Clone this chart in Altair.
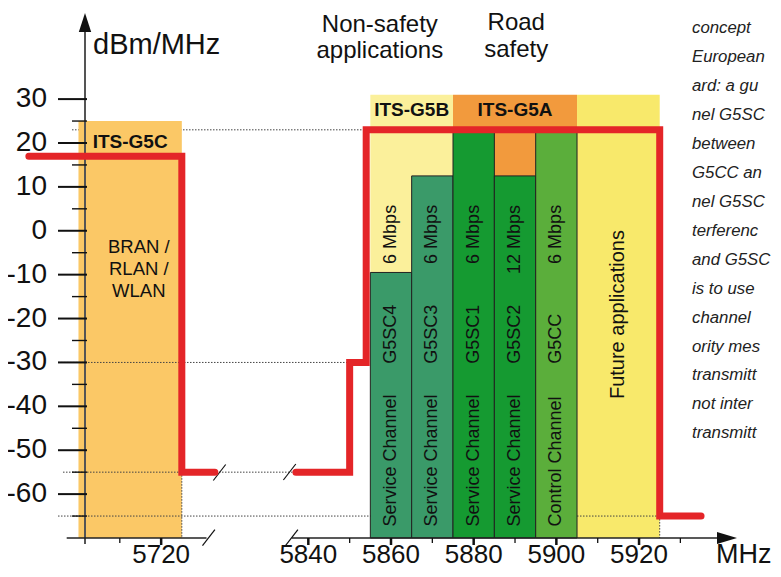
import altair as alt
import pandas as pd

# ---------------- data ----------------
band_label = ["ITS-G5C", "ITS-G5B", "ITS-G5A", "Future"]
band_lo = [5700, 5855, 5875, 5905]          # MHz
band_hi = [5725, 5875, 5905, 5925]          # MHz
band_top = [25, 31, 31, 31]                 # dBm/MHz
band_fill = ["#FBC866", "#FBF09B", "#F29A3D", "#F8E96B"]

ch_name = ["G5SC4", "G5SC3", "G5SC1", "G5SC2", "G5CC"]
ch_lo = [5855, 5865, 5875, 5885, 5895]
ch_hi = [5865, 5875, 5885, 5895, 5905]
ch_level = [-9.5, 12.5, 23, 12.5, 23]
ch_rate = ["6 Mbps", "6 Mbps", "6 Mbps", "12 Mbps", "6 Mbps"]
ch_kind = ["Service Channel", "Service Channel", "Service Channel",
           "Service Channel", "Control Channel"]
ch_fill = ["#3A9A69", "#3A9A69", "#159A31", "#159A31", "#5BAE3B"]

mask_left_f = [5688, 5725, 5725, 5733]
mask_left_p = [17, 17, -55, -55]
mask_right_f = [5837, 5850, 5850, 5854, 5854, 5925, 5925, 5935]
mask_right_p = [-55, -55, -30, -30, 23, 23, -65, -65]

y_major = [30, 20, 10, 0, -10, -20, -30, -40, -50, -60]
y_major_lbl = ["30", "20", "10", "0", "-10", "-20", "-30", "-40", "-50", "-60"]
y_minor = [25, 15, 5, -5, -15, -25, -35, -45, -55, -65]
x_major = [5720, 5840, 5860, 5880, 5900, 5920]
x_major_lbl = ["5720", "5840", "5860", "5880", "5900", "5920"]
x_minor = [5710, 5850, 5870, 5890, 5910, 5930]

side_text = ["concept", "European", "ard: a gu",
             "nel G5SC", "between", "G5CC an", "nel G5SC",
             "terferenc", "and G5SC", "is to use", "channel", "ority mes",
             "transmitt", "not inter", "transmitt"]

# ---------------- layout ----------------
OFF = 84.4          # broken axis: low band is shifted right by this many MHz
BREAK = 5780


def disp(f):
    return f + OFF if f < BREAK else f


K = 4.134           # px per MHz
W, H = 652, 523
X0 = 5785.98
X1 = X0 + W / K
Y0, Y1 = -70, 49.16


def dpx(px):        # plot-pixel -> display MHz
    return X0 + px / K


def ypx(v):         # dBm -> plot pixel
    return (Y1 - v) * H / (Y1 - Y0)


xs = alt.Scale(domain=[X0, X1], nice=False, zero=False)
ys = alt.Scale(domain=[Y0, Y1], nice=False, zero=False)
FONT = "Liberation Sans"
one = pd.DataFrame({"a": [0]})

layers = []

# dotted reference line under the bands
dot_under = pd.DataFrame({"x": [dpx(-13)], "x2": [5854], "y": [23], "y2": [23]})
layers.append(alt.Chart(dot_under).mark_rule(color="#444", strokeWidth=1, strokeDash=[1.5, 1.5]).encode(
    x=alt.X("x:Q", scale=xs, axis=None), x2="x2:Q",
    y=alt.Y("y:Q", scale=ys, axis=None), y2="y2:Q"))

# bands
bands = pd.DataFrame({"x": [disp(v) for v in band_lo], "x2": [disp(v) for v in band_hi],
                      "y": band_top, "y2": [Y0] * 4, "fill": band_fill})
layers.append(alt.Chart(bands).mark_rect().encode(
    x=alt.X("x:Q", scale=xs, axis=None), x2="x2:Q",
    y=alt.Y("y:Q", scale=ys, axis=None), y2="y2:Q",
    color=alt.Color("fill:N", scale=None)))

# dotted reference lines over the bands
dot_over = pd.DataFrame({
    "x": [dpx(-27), dpx(-22), dpx(-27), disp(5725), 5925],
    "x2": [5850, 5837, dpx(598), disp(5725), 5925],
    "y": [-30, -55, -65, -55, -65],
    "y2": [-30, -55, -65, Y0, Y0]})
layers.append(alt.Chart(dot_over).mark_rule(color="#444", strokeWidth=1, strokeDash=[1.5, 1.5]).encode(
    x=alt.X("x:Q", scale=xs, axis=None), x2="x2:Q",
    y=alt.Y("y:Q", scale=ys, axis=None), y2="y2:Q"))

# channel bars
chans = pd.DataFrame({"x": ch_lo, "x2": ch_hi, "y": ch_level, "y2": [Y0] * 5, "fill": ch_fill,
                      "c": [(a + b) / 2 for a, b in zip(ch_lo, ch_hi)],
                      "name": ch_name, "rate": ch_rate, "kind": ch_kind})
layers.append(alt.Chart(chans).mark_rect(stroke="#222", strokeWidth=1).encode(
    x=alt.X("x:Q", scale=xs, axis=None), x2="x2:Q",
    y=alt.Y("y:Q", scale=ys, axis=None), y2="y2:Q",
    color=alt.Color("fill:N", scale=None)))


# ---------- axes (furniture) ----------
def vrule(x, x2, y, y2, **kw):
    return alt.Chart(one).mark_rule(**kw).encode(
        x=alt.value(x), x2=alt.value(x2), y=alt.value(y), y2=alt.value(y2))


# y axis line + arrow
layers.append(vrule(0, 0, 17, 529, color="#555", strokeWidth=2))
layers.append(alt.Chart(one).mark_point(shape="M0,-1L0.65,1L-0.65,1Z", filled=True, size=361,
                                         color="#111", opacity=1).encode(x=alt.value(0), y=alt.value(7.5)))
# x axis line segments + arrow
layers.append(vrule(-18.3, 121.5, 523, 523, color="#222", strokeWidth=1.6))
layers.append(vrule(206.7, 633, 523, 523, color="#222", strokeWidth=1.6))
layers.append(alt.Chart(one).mark_point(shape="M1,0L-1,-0.6L-1,0.6Z", filled=True, size=400,
                                         color="#111", opacity=1).encode(x=alt.value(642), y=alt.value(523)))
# axis break marks
for cx, cy in [(123.7, 522.7), (206.7, 522.7), (134.5, 457.5), (204.6, 457.0)]:
    layers.append(vrule(cx - 6.2, cx + 6.2, cy + 8, cy - 8, color="#111", strokeWidth=1.2))

# y ticks
ymaj = pd.DataFrame({"v": y_major, "t": y_major_lbl})
ymin = pd.DataFrame({"v": y_minor})
layers.append(alt.Chart(ymaj).mark_rule(color="#111", strokeWidth=2).encode(
    y=alt.Y("v:Q", scale=ys, axis=None), x=alt.value(-27), x2=alt.value(2)))
layers.append(alt.Chart(ymin).mark_rule(color="#111", strokeWidth=1.4).encode(
    y=alt.Y("v:Q", scale=ys, axis=None), x=alt.value(-13), x2=alt.value(2)))
layers.append(alt.Chart(ymaj).mark_text(font=FONT, fontSize=28, align="right", baseline="alphabetic",
                                        dy=8, color="#111").encode(
    y=alt.Y("v:Q", scale=ys, axis=None), x=alt.value(-38), text="t:N"))

# x ticks
xmaj = pd.DataFrame({"v": [disp(v) for v in x_major], "t": x_major_lbl})
xmin = pd.DataFrame({"v": [disp(v) for v in x_minor]})
layers.append(alt.Chart(xmaj).mark_rule(color="#111", strokeWidth=2.5).encode(
    x=alt.X("v:Q", scale=xs, axis=None), y=alt.value(523), y2=alt.value(530)))
layers.append(alt.Chart(xmin).mark_rule(color="#111", strokeWidth=1.3).encode(
    x=alt.X("v:Q", scale=xs, axis=None), y=alt.value(523), y2=alt.value(528)))
layers.append(alt.Chart(xmaj).mark_text(font=FONT, fontSize=26, align="center", baseline="alphabetic",
                                        color="#111").encode(
    x=alt.X("v:Q", scale=xs, axis=None), y=alt.value(548.4), text="t:N"))

# axis titles
layers.append(alt.Chart(one).mark_text(text="dBm/MHz", font=FONT, fontSize=29, align="left",
                                       baseline="alphabetic", color="#111").encode(
    x=alt.value(8), y=alt.value(38.5)))
layers.append(alt.Chart(one).mark_text(text="MHz", font=FONT, fontSize=27, align="left",
                                       baseline="alphabetic", color="#111").encode(
    x=alt.value(631), y=alt.value(548)))

# ---------- spectrum mask (red) ----------
mask = pd.DataFrame({
    "x": [disp(v) for v in mask_left_f] + [disp(v) for v in mask_right_f],
    "y": mask_left_p + mask_right_p,
    "seg": ["a"] * len(mask_left_f) + ["b"] * len(mask_right_f),
    "i": list(range(len(mask_left_f))) + list(range(len(mask_right_f)))})
layers.append(alt.Chart(mask).mark_line(color="#E42528", strokeWidth=7, strokeCap="round",
                                        strokeJoin="miter").encode(
    x=alt.X("x:Q", scale=xs, axis=None), y=alt.Y("y:Q", scale=ys, axis=None),
    detail="seg:N", order="i:Q"))

# ---------- labels ----------
hdr = pd.DataFrame({"x": [disp(5712.5), 5865, 5890], "y": [18.8, 26.1, 26.1],
                    "t": band_label[:3]})
layers.append(alt.Chart(hdr).mark_text(font=FONT, fontSize=19, fontWeight="bold", align="center",
                                       baseline="alphabetic", color="#111").encode(
    x=alt.X("x:Q", scale=xs, axis=None), y=alt.Y("y:Q", scale=ys, axis=None), text="t:N"))

bran = pd.DataFrame({"x": [disp(5714.6)] * 3, "y": [-5, -10.05, -15], "t": ["BRAN /", "RLAN /", "WLAN"]})
layers.append(alt.Chart(bran).mark_text(font=FONT, fontSize=18.5, align="center",
                                        baseline="alphabetic", color="#111").encode(
    x=alt.X("x:Q", scale=xs, axis=None), y=alt.Y("y:Q", scale=ys, axis=None), text="t:N"))

groups = pd.DataFrame({"x": [5857.3, 5857.3, 5890.3, 5890.3], "y": [45.2, 39.3, 45.7, 39.7],
                       "t": ["Non-safety", "applications", "Road", "safety"]})
layers.append(alt.Chart(groups).mark_text(font=FONT, fontSize=24, align="center",
                                          baseline="alphabetic", color="#111").encode(
    x=alt.X("x:Q", scale=xs, axis=None), y=alt.Y("y:Q", scale=ys, axis=None), text="t:N"))

rot = dict(font=FONT, fontSize=18, angle=270, baseline="middle", color="#111")
layers.append(alt.Chart(chans).mark_text(align="right", **rot).encode(
    x=alt.X("c:Q", scale=xs, axis=None), y=alt.value(ypx(5.9)), text="rate:N"))
layers.append(alt.Chart(chans).mark_text(align="left", **rot).encode(
    x=alt.X("c:Q", scale=xs, axis=None), y=alt.value(ypx(-30.3)), text="name:N"))
layers.append(alt.Chart(chans).mark_text(align="left", **rot).encode(
    x=alt.X("c:Q", scale=xs, axis=None), y=alt.value(ypx(-67.4)), text="kind:N"))
fut = pd.DataFrame({"x": [(band_lo[3] + band_hi[3]) / 2], "t": ["Future applications"]})
layers.append(alt.Chart(fut).mark_text(font=FONT, fontSize=20, angle=270, baseline="middle",
                                       align="center", color="#111").encode(
    x=alt.X("x:Q", scale=xs, axis=None), y=alt.value(ypx(-19.1)), text="t:N"))

# article text running along the right edge
side = pd.DataFrame({"t": side_text, "py": [18.3 + 28.93 * i for i in range(len(side_text))]})
layers.append(alt.Chart(side).mark_text(font=FONT, fontSize=16.8, fontStyle="italic", align="left",
                                        baseline="alphabetic", color="#222").encode(
    x=alt.value(607), y=alt.Y("py:Q", scale=None), text="t:N"))

chart = alt.layer(*layers).properties(
    width=W, height=H,
    autosize=alt.AutoSizeParams(type="none"),
    padding={"left": 77, "top": 7, "right": 36, "bottom": 31},
    background="white",
).configure_view(stroke=None)

chart.save("out.html", embed_options={"renderer": "svg", "actions": False})
